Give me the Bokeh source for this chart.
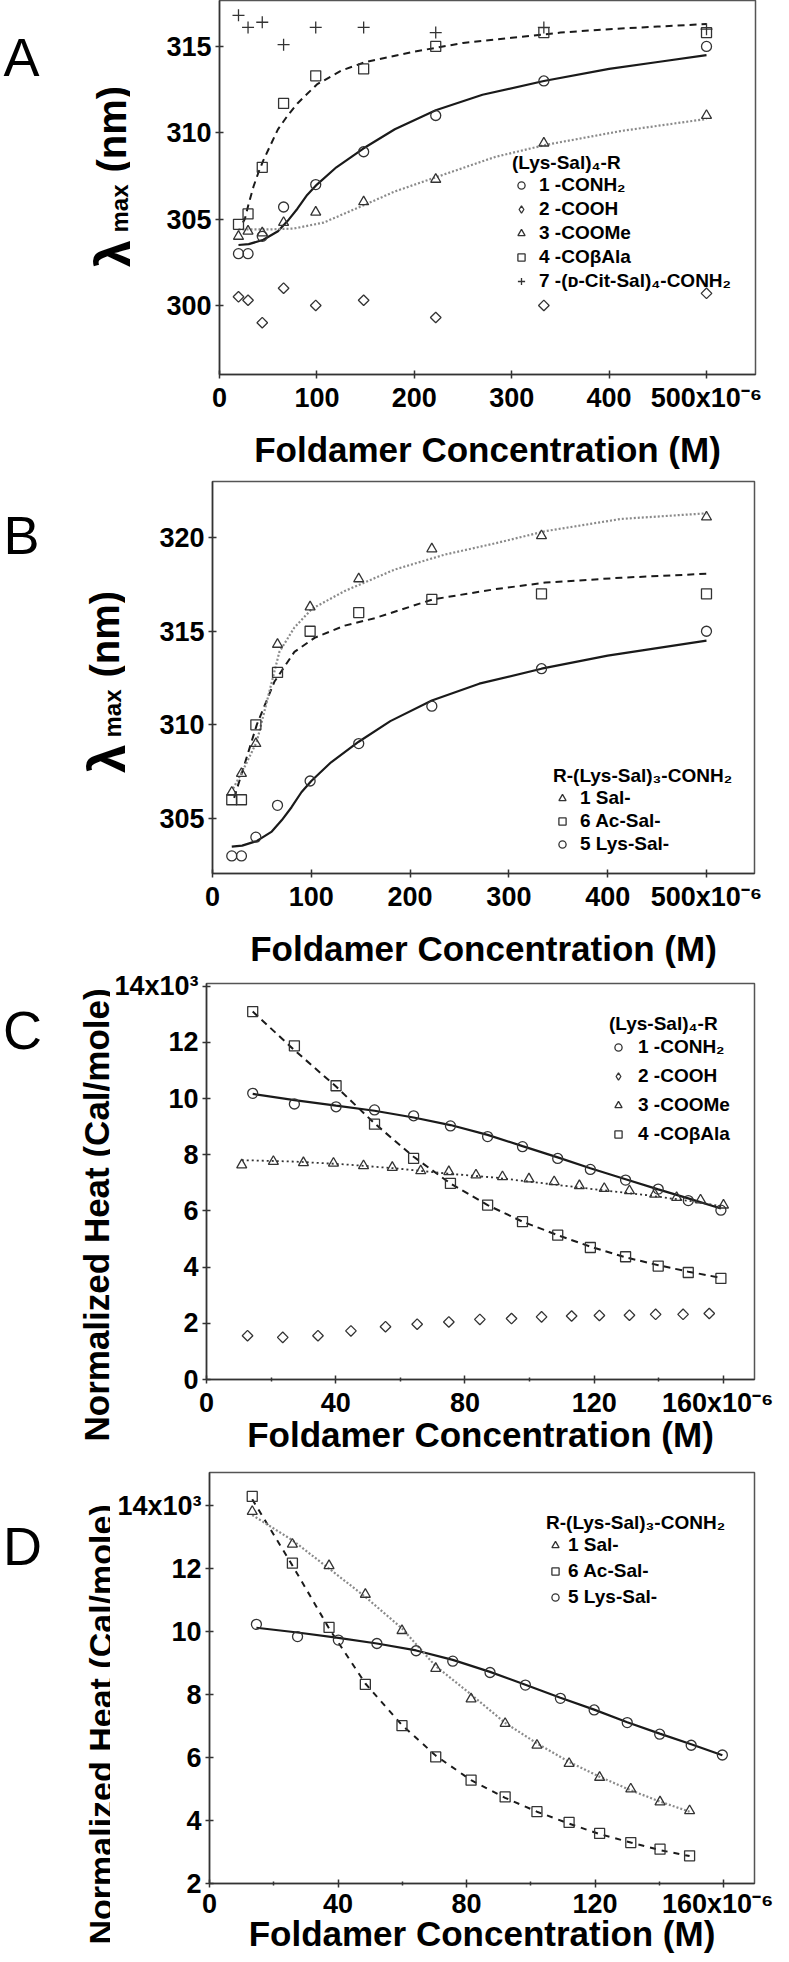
from math import pi
from bokeh.plotting import figure
from bokeh.layouts import column, row
from bokeh.models import Range1d, FixedTicker, Legend, LegendItem
from bokeh.core.properties import value
from bokeh.embed import file_html
from bokeh.resources import INLINE

FONT = "Liberation Sans"

# ---------------- Panel A : lambda_max vs concentration ----------------
conc_ab = [19.5, 29.3, 43.9, 65.8, 98.8, 148, 222, 333, 500]
a_conh2 = [303.0, 303.0, 304.0, 305.7, 307.0, 308.9, 311.0, 313.0, 315.0]
a_cooh = [300.5, 300.3, 299.0, 301.0, 300.0, 300.3, 299.3, 300.0, 300.7]
a_coome = [304.0, 304.3, 304.2, 304.8, 305.4, 306.0, 307.3, 309.4, 311.0]
a_cobala = [304.7, 305.3, 308.0, 311.7, 313.3, 313.7, 315.0, 315.8, 315.8]
a_dcit = [316.8, 316.1, 316.4, 315.1, 316.1, 316.1, 315.8, 316.1, 316.0]

fit_solid_x = [19.5, 30, 45, 60, 70, 80, 90, 100, 120, 148, 180, 222, 270, 333, 400, 450, 500]
fit_solid_y = [303.5, 303.55, 303.8, 304.3, 304.9, 305.6, 306.4, 307.0, 308.0, 309.1,
               310.2, 311.3, 312.2, 313.0, 313.7, 314.1, 314.5]
a_dash_x = [24, 26, 30, 35, 40, 45, 50, 60, 70, 80, 100, 125, 150, 200, 250, 300, 350, 400, 450, 500]
a_dash_y = [304.8, 305.0, 305.9, 306.9, 307.7, 308.4, 309.0, 310.2, 311.0, 311.7, 312.8,
            313.6, 314.1, 314.7, 315.2, 315.5, 315.8, 316.0, 316.15, 316.3]
a_dot_x = [19.5, 50, 76, 107, 148, 180, 221, 283, 335, 412, 500]
a_dot_y = [304.4, 304.4, 304.45, 304.8, 305.8, 306.6, 307.4, 308.6, 309.3, 310.1, 310.8]

# ---------------- Panel B ----------------
b_sal = [306.4, 307.4, 309.0, 314.3, 316.3, 317.8, 319.4, 320.1, 321.1]
b_acsal = [306.0, 306.0, 310.0, 312.8, 315.0, 316.0, 316.7, 317.0, 317.0]
b_lyssal = [303.0, 303.0, 304.0, 305.7, 307.0, 309.0, 311.0, 313.0, 315.0]
b_dot_x = [20.9, 32, 44.8, 67.7, 82.9, 100.7, 133.8, 184.6, 235.5, 286.4, 337.2, 413.5, 500]
b_dot_y = [306.6, 307.7, 309.1, 313.9, 315.2, 316.2, 317.15, 318.3, 319.1, 319.7, 320.35, 321.0, 321.3]
b_dash_x = [21.9, 44.8, 62.6, 82.9, 103.3, 133.8, 164.3, 222.8, 286.4, 337.2, 413.5, 500]
b_dash_y = [306.1, 310.0, 312.3, 313.9, 314.65, 315.3, 315.7, 316.7, 317.25, 317.6, 317.86, 318.07]

# ---------------- Panel C : normalized heat ----------------
c_x = [14.3, 27.2, 40.1, 52.0, 64.1, 75.5, 87.0, 97.8, 108.7, 118.8, 129.7, 139.8, 149.1, 159.2]
c_conh2 = [10.19, 9.81, 9.71, 9.60, 9.39, 9.03, 8.65, 8.29, 7.87, 7.48, 7.10, 6.78, 6.37, 6.03]
c_cobala = [13.1, 11.88, 10.46, 9.09, 7.87, 6.98, 6.21, 5.62, 5.14, 4.70, 4.37, 4.04, 3.81, 3.60]
c_x_tri = [10.9, 20.7, 30.0, 39.3, 48.6, 57.5, 66.3, 75.0, 83.4, 91.6, 99.8, 107.6, 115.4,
           123.1, 130.9, 138.7, 145.5, 152.9, 160.0]
c_coome = [7.64, 7.76, 7.72, 7.70, 7.61, 7.55, 7.43, 7.40, 7.28, 7.22, 7.14, 7.04, 6.90,
           6.80, 6.72, 6.60, 6.48, 6.39, 6.21]
c_x_dia = [12.7, 23.6, 34.5, 44.7, 55.4, 65.2, 75.0, 84.6, 94.4, 103.7, 113.0, 121.6, 130.9, 139.0, 147.5, 155.6]
c_cooh = [1.56, 1.50, 1.56, 1.73, 1.88, 1.97, 2.05, 2.14, 2.17, 2.23, 2.26, 2.28, 2.29, 2.32, 2.32, 2.35]
c_solid_y = [10.17, 9.95, 9.75, 9.57, 9.33, 9.06, 8.71, 8.31, 7.91, 7.52, 7.13, 6.77, 6.45, 6.09]
c_dot_x = [10.9, 27.2, 42.7, 58.2, 73.7, 89.2, 104.8, 120.3, 135.8, 151.3, 160.0]
c_dot_y = [7.81, 7.76, 7.66, 7.52, 7.34, 7.19, 6.98, 6.77, 6.57, 6.33, 6.15]
c_dash_y = [13.1, 11.73, 10.43, 9.12, 7.93, 6.98, 6.21, 5.62, 5.14, 4.73, 4.35, 4.07, 3.84, 3.62]

# ---------------- Panel D ----------------
d_x = [13.3, 25.8, 37.2, 48.5, 59.9, 70.4, 81.4, 92.0, 101.9, 111.9, 121.4, 131.1, 140.2, 149.4]
d_sal = [13.81, 12.77, 12.09, 11.18, 10.03, 8.83, 7.86, 7.08, 6.39, 5.81, 5.37, 5.00, 4.59, 4.31]
d_acsal = [14.29, 12.17, 10.13, 8.32, 7.01, 6.02, 5.28, 4.75, 4.28, 3.94, 3.59, 3.30, 3.09, 2.88]
d_x_circ = [14.6, 27.4, 40.1, 52.1, 64.3, 75.7, 87.3, 98.3, 109.2, 119.7, 130.0, 140.1, 149.9, 159.6]
d_lyssal = [10.23, 9.84, 9.73, 9.62, 9.39, 9.06, 8.70, 8.30, 7.88, 7.51, 7.11, 6.74, 6.39, 6.08]
d_solid_y = [10.12, 9.97, 9.80, 9.62, 9.40, 9.10, 8.72, 8.31, 7.90, 7.52, 7.12, 6.76, 6.42, 6.07]
d_dot_y = [13.7, 12.9, 12.0, 11.1, 10.1, 8.9, 8.0, 7.1, 6.45, 5.86, 5.39, 4.96, 4.6, 4.28]
d_dash_y = [14.2, 12.1, 10.1, 8.35, 7.03, 6.06, 5.28, 4.72, 4.28, 3.9, 3.57, 3.3, 3.06, 2.87]

# tick definitions
ab_xticks = [0, 100, 200, 300, 400, 500]
ab_xlabels = {500: "500x10⁻⁶"}
a_yticks = [300, 305, 310, 315]
b_yticks = [305, 310, 315, 320]
cd_xticks = [0, 40, 80, 120, 160]
cd_xminor = [20, 60, 100, 140]
cd_xlabels = {160: "160x10⁻⁶"}
c_yticks = [0, 2, 4, 6, 8, 10, 12, 14]
d_yticks = [2, 4, 6, 8, 10, 12, 14]
cd_ylabels = {14: "14x10³"}

XLABEL = "Foldamer Concentration (M)"
HEAT_LABEL = "Normalized Heat (Cal/mole)"

MK = dict(fill_color=None, line_color="#333333", line_width=1.3)
DIA = dict(marker="square", angle=pi / 4, size=7.5, fill_color=None,
           line_color="#333333", line_width=1.3)
SOLID = dict(line_color="#1a1a1a", line_width=2.2)
DASH = dict(line_color="#1a1a1a", line_width=2.0, line_dash="7 5")
DOT = dict(line_color="#8a8a8a", line_width=2.2, line_dash="2 2")


def make_fig(fw, fh, xr, yr, bl, bt, bb, br, xticks, xminor, yticks, xover, yover,
             xstand, lstand=4):
    p = figure(frame_width=fw, frame_height=fh, min_border_left=bl, min_border_top=bt,
               min_border_bottom=bb, min_border_right=br,
               x_range=Range1d(*xr), y_range=Range1d(*yr),
               output_backend="svg", toolbar_location=None)
    p.xgrid.visible = False
    p.ygrid.visible = False
    p.outline_line_color = "#555555"
    p.outline_line_width = 1.5
    p.xaxis.ticker = FixedTicker(ticks=xticks, minor_ticks=xminor)
    p.yaxis.ticker = FixedTicker(ticks=yticks, minor_ticks=[])
    p.xaxis.major_label_overrides = xover
    p.yaxis.major_label_overrides = yover
    for ax in (p.xaxis[0], p.yaxis[0]):
        ax.axis_line_color = "#333333"
        ax.axis_line_width = 1.5
        ax.major_tick_line_color = "#333333"
        ax.major_tick_line_width = 1.5
        ax.minor_tick_line_color = "#333333"
        ax.minor_tick_line_width = 1.5
        ax.major_tick_in = 4
        ax.major_tick_out = 4
        ax.minor_tick_in = 2
        ax.minor_tick_out = 2
        ax.major_label_text_font = FONT
        ax.major_label_text_font_style = "bold"
        ax.major_label_text_font_size = "27px"
        ax.major_label_text_color = "black"
        ax.major_label_standoff = 4
        ax.axis_label_text_font = FONT
        ax.axis_label_text_font_style = "bold"
        ax.axis_label_text_font_size = "35px"
        ax.axis_label_text_color = "black"
    p.xaxis.major_label_standoff = lstand
    p.xaxis.axis_label = XLABEL
    p.xaxis.axis_label_standoff = xstand
    return p


class Side:
    """blank strip left of a panel that carries the panel letter and the y title;
    positions are given in pixels from the strip's top-left corner"""
    def __init__(self, w, h):
        self.h = h
        s = figure(frame_width=w, frame_height=h, x_range=Range1d(0, w), y_range=Range1d(0, h),
                   min_border_left=0, min_border_right=0, min_border_top=0, min_border_bottom=0,
                   x_axis_location=None, y_axis_location=None,
                   output_backend="svg", toolbar_location=None)
        s.outline_line_color = None
        s.grid.visible = False
        self.fig = s

    def text(self, txt, x, y, size, bold=True, angle=0.0, align="left", baseline="alphabetic"):
        self.fig.text(x=[x], y=[self.h - y], text=[txt], angle=angle,
                      text_font=value(FONT), text_font_style=value("bold" if bold else "normal"),
                      text_font_size=value(size), text_color="black",
                      text_align=value(align), text_baseline=value(baseline))

    def letter(self, txt, x, y):
        self.text(txt, x, y, "54px", bold=False, align="center", baseline="middle")

    def lambda_title(self, bx, by):
        self.text("λ", bx, by, "56px", angle=pi / 2)
        self.text("max", bx + 4, by - 37, "24px", angle=pi / 2)
        self.text("(nm)", bx - 4, by - 97, "40px", angle=pi / 2)


def add_legend(p, title, items, loc, lh, sp, standoff):
    leg = Legend(items=[LegendItem(label=l, renderers=[r]) for l, r in items],
                 title=title, location=loc, orientation="vertical",
                 padding=0, margin=0, spacing=sp, label_height=lh, glyph_height=lh,
                 glyph_width=18, label_standoff=standoff, title_standoff=0,
                 border_line_alpha=0, background_fill_alpha=0,
                 inactive_fill_alpha=0,
                 label_text_font=FONT, label_text_font_style="bold",
                 label_text_font_size="19px", label_text_color="black",
                 title_text_font=FONT, title_text_font_style="bold",
                 title_text_font_size="19px", title_text_color="black")
    p.add_layout(leg)


# ---------- A ----------
pa = make_fig(536, 374, (0, 550.3), (296.0, 317.66), 89, 0, 95, 18,
              ab_xticks, [], a_yticks, ab_xlabels, {}, 14)
pa.line(fit_solid_x, fit_solid_y, **SOLID)
pa.line(a_dash_x, a_dash_y, **DASH)
pa.line(a_dot_x, a_dot_y, **DOT)
ra1 = pa.scatter(conc_ab, a_conh2, marker="circle", size=10, **MK)
pa.scatter(conc_ab, a_cooh, **DIA)
# legend swatch for the diamonds (hidden copy drawn with an upright diamond)
ra2 = pa.scatter(conc_ab, a_cooh, marker="diamond", size=12, visible=False, **MK)
ra3 = pa.scatter(conc_ab, a_coome, marker="triangle", size=10, **MK)
ra4 = pa.scatter(conc_ab, a_cobala, marker="square", size=10, **MK)
ra7 = pa.scatter(conc_ab, a_dcit, marker="cross", size=12, **MK)
add_legend(pa, "(Lys-Sal)₄-R",
           [("1 -CONH₂", ra1), ("2 -COOH", ra2), ("3 -COOMe", ra3),
            ("4 -COβAla", ra4), ("7 -(ᴅ-Cit-Sal)₄-CONH₂", ra7)],
           (293, 82), 20, 2, 9)
sa = Side(130, 469)
sa.letter("A", 21, 56)
sa.lambda_title(115, 269)

# ---------- B ----------
pb = make_fig(542, 392, (0, 548.6), (302.06, 323.0), 87, 10, 95, 19,
              ab_xticks, [], b_yticks, ab_xlabels, {}, 14)
pb.line(fit_solid_x, fit_solid_y, **SOLID)
pb.line(b_dash_x, b_dash_y, **DASH)
pb.line(b_dot_x, b_dot_y, **DOT)
rb1 = pb.scatter(conc_ab, b_sal, marker="triangle", size=10, **MK)
rb6 = pb.scatter(conc_ab, b_acsal, marker="square", size=10, **MK)
rb5 = pb.scatter(conc_ab, b_lyssal, marker="circle", size=10, **MK)
add_legend(pb, "R-(Lys-Sal)₃-CONH₂",
           [("1 Sal-", rb1), ("6 Ac-Sal-", rb6), ("5 Lys-Sal-", rb5)],
           (341, 18), 20, 1, 9)
sb = Side(125, 497)
sb.letter("B", 21, 53)
sb.lambda_title(108, 293)

# ---------- C ----------
pc = make_fig(548, 396, (0, 169.6), (0, 14.1), 96, 13, 75, 19,
              cd_xticks, cd_xminor, c_yticks, cd_xlabels, cd_ylabels, -6)
pc.line(c_x, c_solid_y, **SOLID)
pc.line(c_x, c_dash_y, **DASH)
pc.line(c_dot_x, c_dot_y, line_color="#333333", line_width=1.8, line_dash="2 3")
rc1 = pc.scatter(c_x, c_conh2, marker="circle", size=10, **MK)
pc.scatter(c_x_dia, c_cooh, **DIA)
rc2 = pc.scatter(c_x_dia, c_cooh, marker="diamond", size=12, visible=False, **MK)
rc3 = pc.scatter(c_x_tri, c_coome, marker="triangle", size=10, **MK)
rc4 = pc.scatter(c_x, c_cobala, marker="square", size=10, **MK)
add_legend(pc, "(Lys-Sal)₄-R",
           [("1 -CONH₂", rc1), ("2 -COOH", rc2), ("3 -COOMe", rc3), ("4 -COβAla", rc4)],
           (403, 233), 24, 5, 11)
sc = Side(110, 484)
sc.letter("C", 22, 46)
sc.text(HEAT_LABEL, 96, 458, "35px", angle=pi / 2)

# ---------- D ----------
pd = make_fig(545, 411, (0, 169.6), (2.0, 15.05), 99, 16, 69, 19,
              cd_xticks, cd_xminor, d_yticks, cd_xlabels, cd_ylabels, -8, lstand=1)
pd.line(d_x_circ, d_solid_y, **SOLID)
pd.line(d_x, d_dash_y, line_color="#1a1a1a", line_width=2.0, line_dash="6 6")
pd.line(d_x, d_dot_y, **DOT)
rd1 = pd.scatter(d_x, d_sal, marker="triangle", size=10, **MK)
rd6 = pd.scatter(d_x, d_acsal, marker="square", size=10, **MK)
rd5 = pd.scatter(d_x_circ, d_lyssal, marker="circle", size=10, **MK)
add_legend(pd, "R-(Lys-Sal)₃-CONH₂",
           [("1 Sal-", rd1), ("6 Ac-Sal-", rd6), ("5 Lys-Sal-", rd5)],
           (337, 275), 20, 4, 4)
sd = Side(110, 496)
sd.letter("D", 22, 73)
sd.text(HEAT_LABEL, 100, 472, "34px", angle=pi / 2)

layout = column(row(sa.fig, pa), row(sb.fig, pb), row(sc.fig, pc), row(sd.fig, pd))
open("out.html", "w").write(file_html(layout, INLINE))
